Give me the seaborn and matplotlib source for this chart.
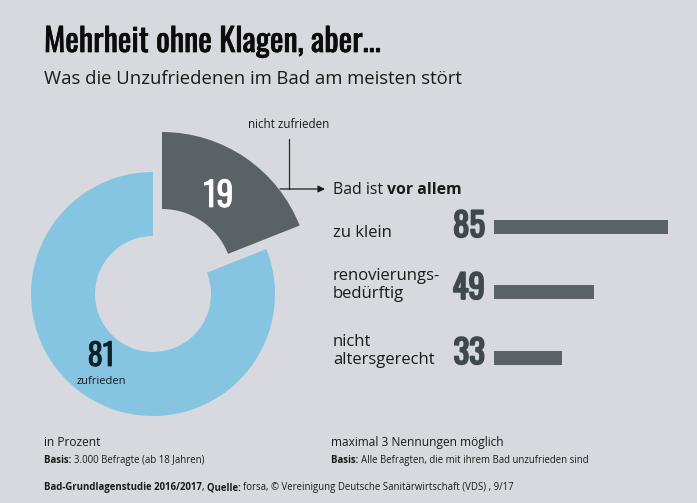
import matplotlib
matplotlib.use('Agg')
import matplotlib.pyplot as plt
import matplotlib.patheffects as pe
import pandas as pd
import seaborn as sns

# Daten
ring_labels = ['zufrieden', 'nicht zufrieden']
ring_values = [81, 19]
reasons = ['zu klein', 'renovierungs-\nbedürftig', 'nicht\naltersgerecht']
reason_values = [85, 49, 33]

BG = '#d7d9de'
BLUE = '#86c5e2'
DARK = '#5b6265'
W, H = 697, 503

sns.set_theme(style='white')
plt.rcParams['font.family'] = ['Open Sans', 'DejaVu Sans']

fig = plt.figure(figsize=(W / 100, H / 100), dpi=100, facecolor=BG)

# Hintergrund-Achse in Pixeln
ax = fig.add_axes([0, 0, 1, 1])
ax.set_facecolor('none')


def py(y):
    return H - y


# Ring: beide Teile haben eigene Mitte und Radien
ax.pie(ring_values, colors=[BLUE, 'none'], startangle=90, center=(153, py(294)), radius=122,
       wedgeprops={'width': 64, 'linewidth': 0, 'edgecolor': 'none'})
ax.pie(ring_values, colors=['none', DARK], startangle=90, center=(162, py(280)), radius=148,
       wedgeprops={'width': 77, 'linewidth': 0, 'edgecolor': 'none'})
ax.set_xlim(0, W)
ax.set_ylim(0, H)
ax.set_aspect('equal')
ax.axis('off')


def runs(x, y, parts, size, color='#1a1a1a'):
    # Text stueckweise setzen, damit fett und normal in einer Zeile gehen
    r = fig.canvas.get_renderer()
    for txt, weight in parts:
        t = ax.text(x, py(y), txt, fontsize=size, fontweight=weight, color=color, va='baseline', ha='left')
        x = ax.transData.inverted().transform(t.get_window_extent(r))[1][0]


narrow = ['Oswald', 'Liberation Sans Narrow', 'Liberation Sans', 'DejaVu Sans']


def heavy(x, y, txt, size, color, stroke, ha='center'):
    # Oswald kommt nur in normaler Staerke, Kontur macht es fetter
    t = ax.text(x, py(y), txt, fontsize=size, family=narrow, color=color, ha=ha, va='baseline')
    t.set_path_effects([pe.withStroke(linewidth=stroke, foreground=color)])
    return t


heavy(44, 52, 'Mehrheit ohne Klagen, aber...', 23.2, '#0c0c0c', 0.5, ha='left')
ax.text(44, py(84), 'Was die Unzufriedenen im Bad am meisten stört', fontsize=13.3, color='#1a1a1a', va='baseline')
ax.text(289, py(128), 'nicht zufrieden', fontsize=8.4, color='#1a1a1a', ha='center', va='baseline')

# Verbindungslinie und Pfeil
ax.plot([289, 289], [py(139), py(189)], color='#2a2a2a', lw=0.9)
ax.annotate('', xy=(325, py(189)), xytext=(280, py(189)),
            arrowprops=dict(arrowstyle='-|>', color='#1a1a1a', lw=0.9, mutation_scale=10, shrinkA=0, shrinkB=0))

runs(333, 194, [('Bad ist ', 'normal'), ('vor allem', 'bold')], 11.4)

# Werte im Ring
heavy(218.5, 207, str(ring_values[1]), 24.5, 'white', 0.5)
heavy(101, 366, str(ring_values[0]), 22, '#10202a', 0.6)
ax.text(101, py(384), ring_labels[0], fontsize=8, color='#1a1a1a', ha='center', va='baseline')

# Balken
bar_ax = fig.add_axes([494 / W, 1 - 390.8 / H, 174 / W, 196.9 / H])
df = pd.DataFrame({'grund': reasons, 'wert': reason_values})
sns.barplot(data=df, x='wert', y='grund', color=DARK, saturation=1, width=0.213, linewidth=0, ax=bar_ax)
bar_ax.set_xlim(0, 85)
bar_ax.set_facecolor('none')
bar_ax.axis('off')

# Beschriftung der Balken
label_y = [232.5, 285, 351]
number_y = [237, 299, 364]
for name, val, ly, ny in zip(reasons, reason_values, label_y, number_y):
    ax.text(333, py(ly), name, fontsize=12, color='#1a1a1a', ha='left', va='center', linespacing=1.2)
    heavy(485, ny, str(val), 23.7, '#3f484d', 1.3, ha='right')

# Fussnoten
ax.text(44, py(446), 'in Prozent', fontsize=8.6, color='#1a1a1a', va='baseline')
ax.text(331, py(446), 'maximal 3 Nennungen möglich', fontsize=8.6, color='#1a1a1a', va='baseline')
runs(44, 463, [('Basis: ', 'bold'), ('3.000 Befragte (ab 18 Jahren)', 'normal')], 6.9)
runs(331, 463, [('Basis: ', 'bold'), ('Alle Befragten, die mit ihrem Bad unzufrieden sind', 'normal')], 6.9)
runs(44, 490, [('Bad-Grundlagenstudie 2016/2017', 'bold'), (', ', 'normal'), ('Quelle: ', 'bold'),
               ('forsa, © Vereinigung Deutsche Sanitärwirtschaft (VDS) , 9/17', 'normal')], 6.9)

fig.savefig('out.png', dpi=100, facecolor=BG)
